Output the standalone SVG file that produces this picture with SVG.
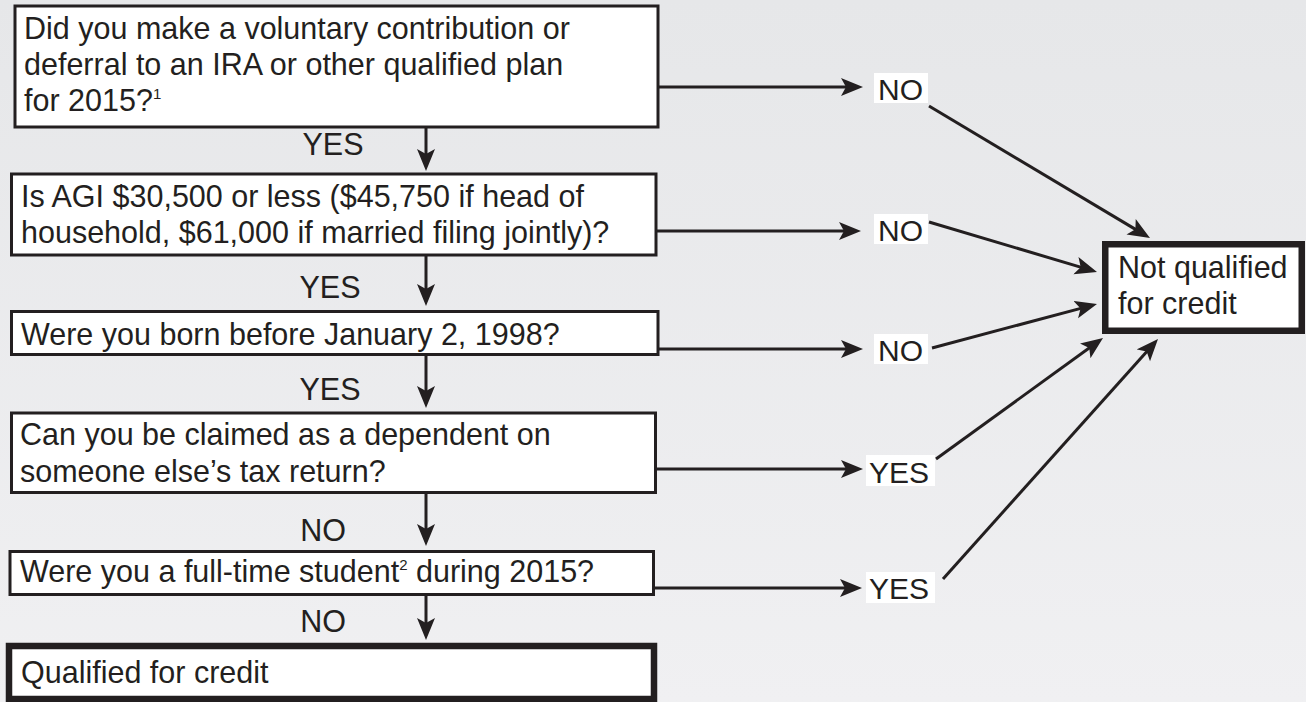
<svg xmlns="http://www.w3.org/2000/svg" width="1306" height="702" viewBox="0 0 1306 702">
<defs>
<linearGradient id="bg" x1="0" y1="0" x2="0" y2="1">
<stop offset="0" stop-color="#e6e7e9"/>
<stop offset="1" stop-color="#f0f0f2"/>
</linearGradient>
<marker id="ah" markerUnits="userSpaceOnUse" markerWidth="24" markerHeight="20" refX="10" refY="9" orient="auto">
<path d="M0,0 L22,9 L0,18 L5,9 Z" fill="#231f20"/>
</marker>
</defs>
<style>
.box{fill:#ffffff;stroke:#231f20;stroke-width:3}
.thick{fill:#ffffff;stroke:#231f20;stroke-width:6.5}
.t{font-family:"Liberation Sans",Arial,Helvetica,sans-serif;font-size:30.5px;fill:#231f20}
.lbl{font-family:"Liberation Sans",Arial,Helvetica,sans-serif;font-size:30px;fill:#231f20}
.sup{font-size:15px}
.lab{fill:#ffffff}
.c{fill:none;stroke:#231f20;stroke-width:3;marker-end:url(#ah)}
</style>
<rect x="0" y="0" width="1306" height="702" fill="url(#bg)"/>

<g id="q1">
<rect class="box" x="15" y="6" width="643" height="121"/>
<text class="t" x="24" y="39">Did you make a voluntary contribution or</text>
<text class="t" x="24" y="75">deferral to an IRA or other qualified plan</text>
<text class="t" x="24" y="111">for 2015?<tspan class="sup" dy="-12">1</tspan></text>
</g>
<g id="q2">
<rect class="box" x="11.5" y="174" width="644.5" height="81"/>
<text class="t" x="21" y="207">Is AGI $30,500 or less ($45,750 if head of</text>
<text class="t" x="21" y="243">household, $61,000 if married filing jointly)?</text>
</g>
<g id="q3">
<rect class="box" x="11.5" y="311.5" width="646.5" height="43"/>
<text class="t" x="21" y="345">Were you born before January 2, 1998?</text>
</g>
<g id="q4">
<rect class="box" x="11.5" y="413" width="644" height="79.5"/>
<text class="t" x="20" y="445">Can you be claimed as a dependent on</text>
<text class="t" x="20" y="482">someone else’s tax return?</text>
</g>
<g id="q5">
<rect class="box" x="10" y="551.5" width="643.5" height="43"/>
<text class="t" x="20" y="582">Were you a full-time student<tspan class="sup" dy="-12">2</tspan><tspan dy="12"> during 2015?</tspan></text>
</g>
<g id="qualified">
<rect class="thick" x="9" y="646" width="645" height="53"/>
<text class="t" x="21" y="683">Qualified for credit</text>
</g>
<g id="notqualified">
<rect class="thick" x="1105.25" y="244.25" width="196.5" height="86.5"/>
<text class="t" x="1118" y="278">Not qualified</text>
<text class="t" x="1118" y="314">for credit</text>
</g>

<g id="connectors">
<line class="c" x1="426" y1="127" x2="426" y2="159"/>
<line class="c" x1="426" y1="255" x2="426" y2="294"/>
<line class="c" x1="426" y1="354.5" x2="426" y2="396"/>
<line class="c" x1="426" y1="492.5" x2="426" y2="534"/>
<line class="c" x1="426" y1="594.5" x2="426" y2="628"/>

<line class="c" x1="658" y1="87" x2="851" y2="87"/>
<line class="c" x1="656" y1="231" x2="849" y2="231"/>
<line class="c" x1="658" y1="349" x2="851" y2="349"/>
<line class="c" x1="655.5" y1="469" x2="851" y2="469"/>
<line class="c" x1="653.5" y1="588" x2="850" y2="588"/>

<line class="c" x1="929" y1="106" x2="1139.7" y2="231.85"/>
<line class="c" x1="929" y1="222" x2="1085.5" y2="268.6"/>
<line class="c" x1="932" y1="348" x2="1085.4" y2="307.1"/>
<line class="c" x1="936" y1="459" x2="1093.3" y2="345"/>
<line class="c" x1="943" y1="579" x2="1150" y2="347.9"/>
</g>

<g id="labels">
<text class="t" x="333" y="155" text-anchor="middle">YES</text>
<text class="t" x="330" y="298" text-anchor="middle">YES</text>
<text class="t" x="330" y="400" text-anchor="middle">YES</text>
<text class="t" x="323" y="541" text-anchor="middle">NO</text>
<text class="t" x="323" y="632" text-anchor="middle">NO</text>

<rect class="lab" x="874" y="73" width="54" height="30"/>
<text class="lbl" x="878" y="100">NO</text>
<rect class="lab" x="874" y="214" width="54" height="30"/>
<text class="lbl" x="878" y="241">NO</text>
<rect class="lab" x="874" y="334" width="54" height="30"/>
<text class="lbl" x="878" y="361">NO</text>
<rect class="lab" x="866" y="455" width="69" height="31"/>
<text class="lbl" x="869" y="483">YES</text>
<rect class="lab" x="866" y="572" width="69" height="31"/>
<text class="lbl" x="869" y="599">YES</text>
</g>
</svg>
